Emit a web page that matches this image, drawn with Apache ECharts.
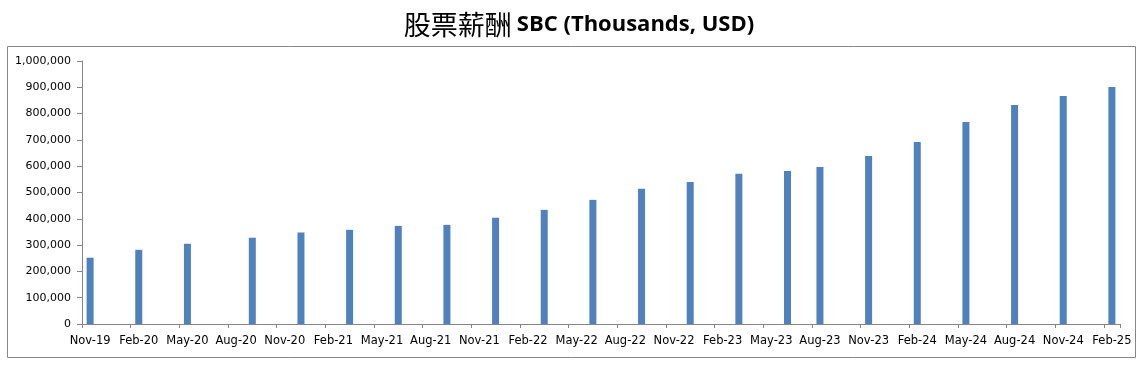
<!DOCTYPE html>
<html>
<head>
<meta charset="utf-8">
<script src="https://cdn.jsdelivr.net/npm/echarts@6/dist/echarts.min.js"></script>
<style>
html,body{margin:0;padding:0;background:#fff;}
#chart{width:1145px;height:371px;}
</style>
</head>
<body>
<div id="chart"></div>
<script>
// Axis month range (monthly base unit, label every 3 months)
var axisStart = '2019-11';
var axisEnd = '2025-02';
// Report months of each bar
var barDates = ['2019-11','2020-02','2020-05','2020-09','2020-12','2021-03','2021-06','2021-09','2021-12','2022-03','2022-06','2022-09','2022-12','2023-03','2023-06','2023-08','2023-11','2024-02','2024-05','2024-08','2024-11','2025-02'];
// SBC values (thousands USD)
var sbcValues = [252000,282000,305000,328000,348000,358000,373000,377000,404000,434000,472000,514000,540000,571000,582000,597000,639000,692000,768000,833000,867000,901000];
var monthNames = ['Jan','Feb','Mar','Apr','May','Jun','Jul','Aug','Sep','Oct','Nov','Dec'];

var categories = [];
(function(){
  var y = +axisStart.slice(0,4), m = +axisStart.slice(5,7);
  var ey = +axisEnd.slice(0,4), em = +axisEnd.slice(5,7);
  while (y < ey || (y === ey && m <= em)) {
    categories.push(y + '-' + (m < 10 ? '0' + m : m));
    m++; if (m > 12) { m = 1; y++; }
  }
})();
function fmtMonth(c){
  return monthNames[+c.slice(5,7)-1] + '-' + c.slice(2,4);
}

var chart = echarts.init(document.getElementById('chart'), null, {renderer:'canvas'});
chart.setOption({
  animation: false,
  backgroundColor: '#ffffff',
  title: {
    text: '{cn|股票薪酬} {en|SBC (Thousands, USD)}',
    left: 574, textAlign: 'center', top: 6,
    textStyle: {
      fontWeight: 'normal',
      rich: {
        cn: {fontFamily: '"Noto Sans CJK TC"', fontWeight: 'normal', fontSize: 27, color: '#000'},
        en: {fontFamily: '"Open Sans"', fontWeight: 'bold', fontSize: 22, color: '#000'}
      }
    }
  },
  graphic: [{
    type: 'rect', silent: true, z: -1,
    shape: {x: 7.5, y: 46.5, width: 1128, height: 311},
    style: {fill: 'none', stroke: '#868686', lineWidth: 1}
  }],
  grid: {left: 82, right: 25, top: 61, bottom: 47},
  xAxis: {
    type: 'category',
    data: categories,
    boundaryGap: true,
    axisLine: {lineStyle: {color: '#868686'}},
    axisTick: {show: true, interval: 2, length: 4, lineStyle: {color: '#868686'}},
    axisLabel: {
      interval: 2, margin: 11, color: '#000',
      fontFamily: '"DejaVu Sans"', fontSize: 11.5,
      formatter: function(v){ return fmtMonth(v); }
    },
    splitLine: {show: false}
  },
  yAxis: {
    type: 'value', min: 0, max: 1000000, interval: 100000,
    axisLine: {show: true, lineStyle: {color: '#868686'}},
    axisTick: {show: true, length: 5, lineStyle: {color: '#868686'}},
    axisLabel: {
      margin: 11, color: '#000', fontFamily: '"DejaVu Sans"', fontSize: 11,
      formatter: function(v){ return v.toLocaleString('en-US'); }
    },
    splitLine: {show: false}
  },
  series: [{
    type: 'bar',
    barWidth: 7,
    itemStyle: {color: '#4f81bd'},
    data: barDates.map(function(d, i){ return [d, sbcValues[i]]; })
  }]
});
</script>
</body>
</html>
